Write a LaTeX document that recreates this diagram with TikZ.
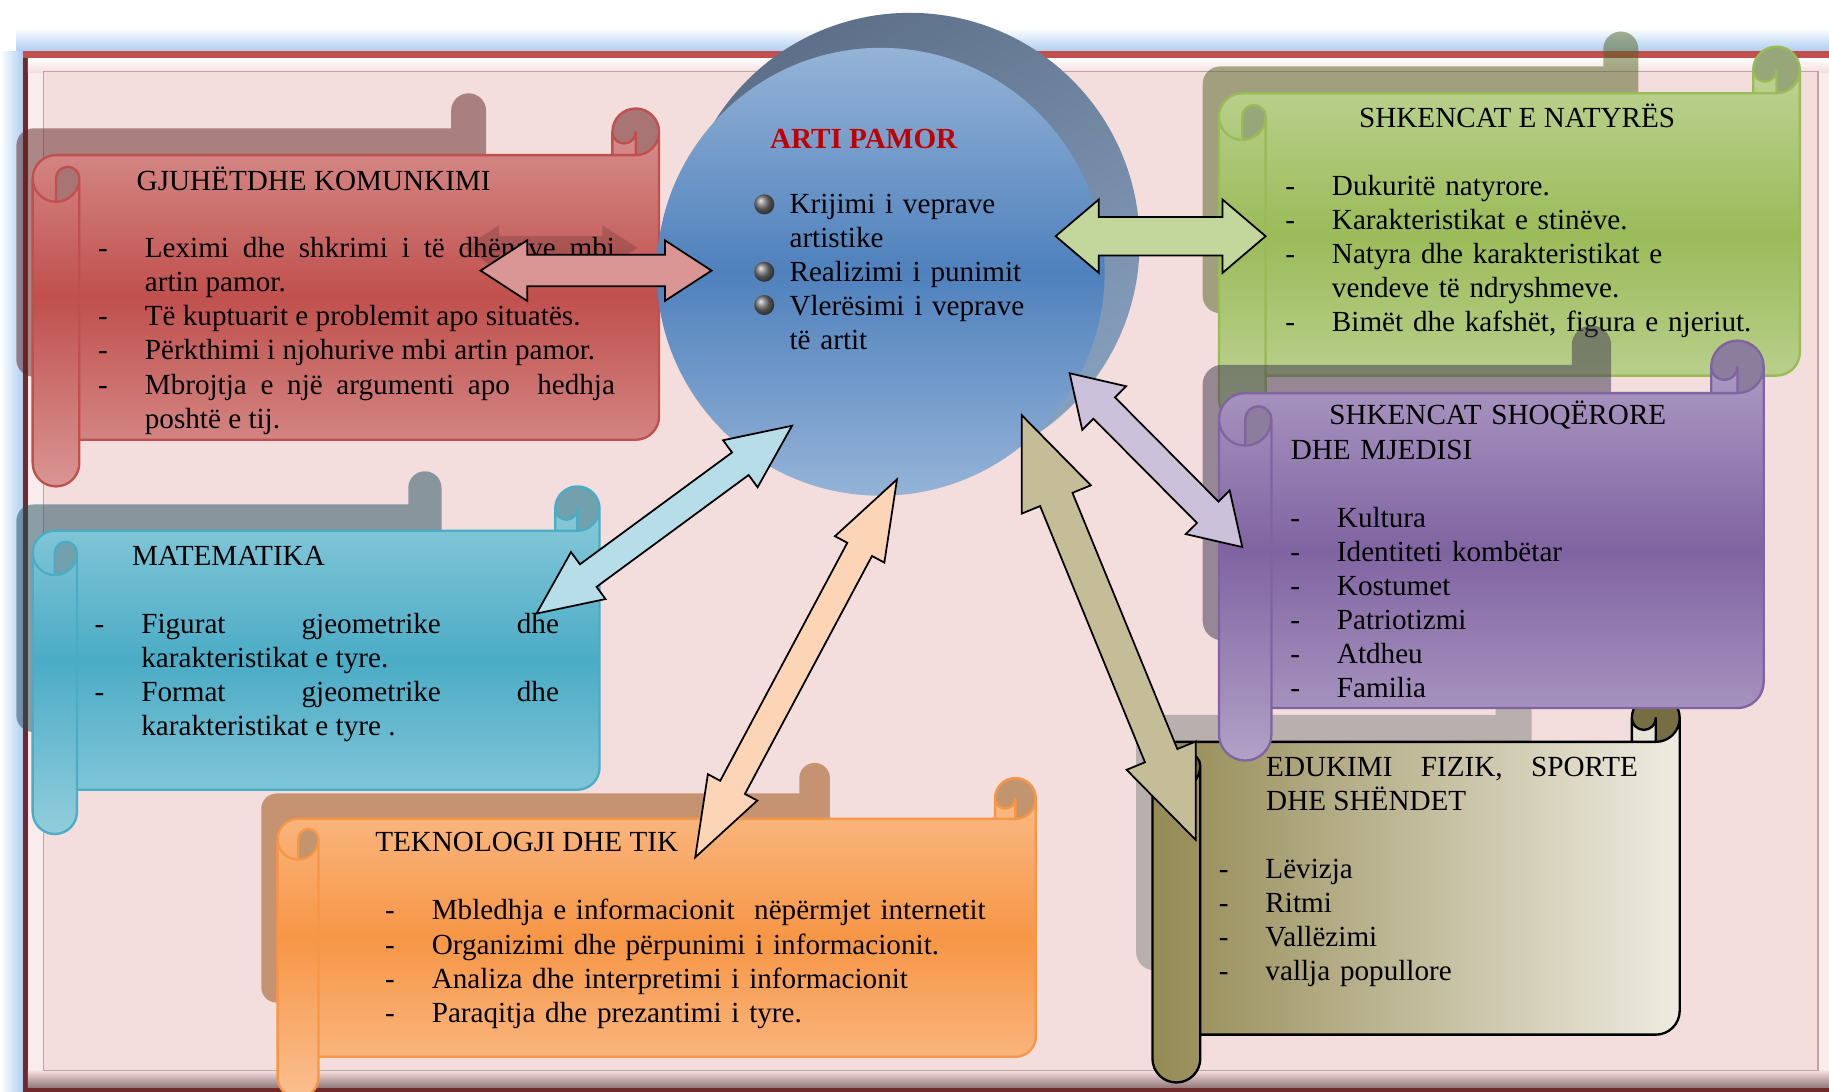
\documentclass[tikz,border=0pt]{standalone}
\usepackage{fontspec}
\setmainfont{Liberation Serif}
\usetikzlibrary{calc}

\definecolor{bgpink}{RGB}{244,221,221}
\definecolor{glowblue}{RGB}{166,200,240}
\definecolor{framered}{RGB}{192,80,77}
\definecolor{framedark}{RGB}{112,42,42}
\definecolor{bevelshade}{RGB}{150,124,124}
\definecolor{innerline}{RGB}{190,165,165}
\definecolor{redlt}{RGB}{217,150,148}
\definecolor{reddk}{RGB}{192,80,77}
\definecolor{bluelt}{RGB}{146,205,220}
\definecolor{bluedk}{RGB}{75,172,198}
\definecolor{greenlt}{RGB}{194,214,155}
\definecolor{greendk}{RGB}{155,187,89}
\definecolor{purplelt}{RGB}{178,161,199}
\definecolor{purpledk}{RGB}{128,100,162}
\definecolor{orangelt}{RGB}{250,191,143}
\definecolor{orangedk}{RGB}{247,150,70}
\definecolor{olivedk}{RGB}{148,138,84}
\definecolor{olivelt}{RGB}{238,236,225}
\definecolor{redshadow}{RGB}{96,35,35}
\definecolor{blueshadow}{RGB}{32,79,95}
\definecolor{greenshadow}{RGB}{82,99,35}
\definecolor{purpleshadow}{RGB}{60,51,79}
\definecolor{orangeshadow}{RGB}{152,75,9}
\definecolor{oliveshadow}{RGB}{128,131,131}
\definecolor{arrred}{RGB}{217,150,148}
\definecolor{arrgreen}{RGB}{195,214,155}
\definecolor{arrcyan}{RGB}{183,222,232}
\definecolor{arrpeach}{RGB}{251,213,181}
\definecolor{arrlav}{RGB}{204,193,218}
\definecolor{arrkhaki}{RGB}{196,189,151}
\definecolor{discback1}{RGB}{94,112,137}
\definecolor{discback2}{RGB}{135,160,190}
\definecolor{disclt}{RGB}{149,179,215}
\definecolor{discdk}{RGB}{79,129,189}
\definecolor{artred}{RGB}{192,0,0}

\hyphenpenalty=10000
\exhyphenpenalty=10000
\tolerance=9999

\newcommand\scrfont{\fontsize{25}{29.2}\selectfont}
\newcommand\dashfirst{\hangindent=40pt\hangafter=1\makebox[40pt][l]{-}}
\newcommand\itm{\par\noindent\dashfirst}

\newcommand\scrollcalc[5]{%
  \pgfmathsetmacro\scrL{#1}%
  \pgfmathsetmacro\scrT{#2}%
  \pgfmathsetmacro\scrR{#3}%
  \pgfmathsetmacro\scrB{#4}%
  \pgfmathsetmacro\scrH{#5/2}%
  \pgfmathsetmacro\scrQ{#5/4}%
  \pgfmathsetmacro\scrXa{#1+#5/2}%
  \pgfmathsetmacro\scrXb{#1+#5}%
  \pgfmathsetmacro\scrXc{#3-#5}%
  \pgfmathsetmacro\scrXd{#3-#5/2}%
  \pgfmathsetmacro\scrYa{#2+#5/2}%
  \pgfmathsetmacro\scrYb{#2+#5}%
  \pgfmathsetmacro\scrYc{#2+1.5*#5}%
  \pgfmathsetmacro\scrYd{#2+2*#5}%
  \pgfmathsetmacro\scrYe{#4-1.5*#5}%
  \pgfmathsetmacro\scrYf{#4-#5}%
  \pgfmathsetmacro\scrYg{#4-#5/2}%
}
\newcommand\scrolloutline{(\scrL,\scrYc) arc[start angle=180, delta angle=90, radius=\scrH]
  -- (\scrXc,\scrYb) -- (\scrXc,\scrYa) arc[start angle=180, delta angle=180, radius=\scrH]
  -- (\scrR,\scrYe) arc[start angle=0, delta angle=90, radius=\scrH]
  -- (\scrXb,\scrYf) -- (\scrXb,\scrYg) arc[start angle=0, delta angle=180, radius=\scrH] -- cycle}
\newcommand\scrollcurls{(\scrXa,\scrYd) arc[start angle=90, delta angle=-90, radius=\scrH]
  arc[start angle=0, delta angle=-180, radius=\scrQ] -- cycle
  (\scrXd,\scrYb) arc[start angle=90, delta angle=-270, radius=\scrH]
  arc[start angle=180, delta angle=-180, radius=\scrQ] -- cycle}
\newcommand\scrollextra{(\scrXc,\scrYb) -- (\scrXd,\scrYb) arc[start angle=90, delta angle=-90, radius=\scrH]
  (\scrXd,\scrYb) -- (\scrXd,\scrYa) arc[start angle=0, delta angle=180, radius=\scrQ]
  (\scrXa,\scrYd) -- (\scrXa,\scrYc) arc[start angle=180, delta angle=180, radius=\scrQ]
  arc[start angle=0, delta angle=180, radius=\scrH]
  (\scrXb,\scrYc) -- (\scrXb,\scrYf)}

% shading, curl colour, outline colour, shadow colour, left, top, right, bottom, roll size
\newcommand\scroll[9]{%
  \scrollcalc{#5}{#6}{#7}{#8}{#9}%
  \begin{scope}[shift={(#5-14,#6-13)}, scale=0.75, shift={(-#5,-#6)}]
    \fill[#4, fill opacity=0.5] \scrolloutline;
  \end{scope}
  \shade[#1] \scrolloutline;
  \fill[#2] \scrollcurls;
  \draw[#3, line width=2pt, line join=round] \scrolloutline \scrollextra;
}

% style, from, to, head length, head half width, shaft half width
\newcommand\bigarrow[6]{%
  \coordinate (#2 h) at ($(#2)!#4pt!(#3)$);
  \coordinate (#3 h) at ($(#3)!#4pt!(#2)$);
  \filldraw[#1] (#2) -- ($(#2 h)!#5pt!90:(#3)$) -- ($(#2 h)!#6pt!90:(#3)$)
    -- ($(#3 h)!#6pt!-90:(#2)$) -- ($(#3 h)!#5pt!-90:(#2)$) -- (#3)
    -- ($(#3 h)!#5pt!90:(#2)$) -- ($(#3 h)!#6pt!90:(#2)$)
    -- ($(#2 h)!#6pt!-90:(#3)$) -- ($(#2 h)!#5pt!-90:(#3)$) -- cycle;
}

\begin{document}
\begin{tikzpicture}[x=1pt, y=-1pt,
    title/.style={anchor=base west, inner sep=0pt, font=\scrfont},
    items/.style={anchor=base west, inner sep=0pt, font=\scrfont, align=justify},
    ragged/.style={anchor=base west, inner sep=0pt, font=\scrfont, align=left},
    blockarrow/.style={draw=black, line width=1.5pt, line join=miter},
    ghost/.style={draw=none, fill=black, fill opacity=0.15},
  ]
    \useasboundingbox (0,0) rectangle (1568,936);

    \shade[top color=white, bottom color=glowblue] (14,24) rectangle (1568,46);
    \shade[left color=white, right color=glowblue] (0,44) rectangle (22,936);
    \fill[framedark] (20,44) rectangle (1572,936);
    \fill[framered] (20,44) rectangle (1572,50);
    \fill[bgpink!55!white] (24,50) rectangle (1572,932);
    \shade[top color=white, bottom color=bgpink] (24,50) rectangle (1572,62);
    \shade[top color=bgpink, bottom color=bevelshade] (24,918) rectangle (1572,932);
    \fill[bgpink, draw=innerline, line width=1pt] (37,61.5) rectangle (1558.5,918);

    \scroll{top color=redlt, bottom color=redlt, middle color=reddk}{redlt!78!black}{reddk}{redshadow}{28}{93}{565}{417}{40}
    \node[title] (gjuha) at (117,163.4) {GJUHËTDHE KOMUNKIMI};
    \node[items, text width=443pt] (gjuhaList) at (84,221) {\dashfirst Leximi dhe shkrimi i të dhënave mbi\linebreak artin pamor.
      \itm Të kuptuarit e problemit apo situatës.
      \itm Përkthimi i njohurive mbi artin pamor.
      \itm Mbrojtja e një argumenti apo~ hedhja\linebreak poshtë e tij.\par};

    \scroll{top color=bluelt, bottom color=bluelt, middle color=bluedk}{bluelt!78!black}{bluedk}{blueshadow}{28}{417}{514}{715}{38}
    \node[title] (mat) at (113,485.2) {MATEMATIKA};
    \node[items, text width=398pt] (matList) at (81,543) {\dashfirst Figurat gjeometrike dhe\linebreak karakteristikat e tyre.
      \itm Format gjeometrike dhe\linebreak karakteristikat e tyre .\par};

    \scroll{top color=orangelt, bottom color=orangelt, middle color=orangedk}{orangelt!78!black}{orangedk}{orangeshadow}{238}{667}{888}{941}{35}
    \node[title] (tik) at (321.5,730) {TEKNOLOGJI DHE TIK};
    \node[ragged, text width=530pt] (tikList) at (330,788.7) {\dashfirst Mbledhja e informacionit~ nëpërmjet internetit
      \itm Organizimi dhe përpunimi i informacionit.
      \itm Analiza dhe interpretimi i informacionit
      \itm Paraqitja dhe prezantimi i tyre.\par};

    \scroll{top color=greenlt, bottom color=greenlt, middle color=greendk}{greenlt!78!black}{greendk}{greenshadow}{1045}{40}{1543}{362}{40}
    \node[title] (nat) at (1165,109.4) {SHKENCAT E NATYRËS};
    \node[ragged, text width=405pt] (natList) at (1101.7,167.2) {\dashfirst Dukuritë natyrore.
      \itm Karakteristikat e stinëve.
      \itm Natyra dhe karakteristikat e\newline vendeve të ndryshmeve.
      \itm Bimët dhe kafshët, figura e njeriut.\par};

    \scroll{left color=olivedk, right color=olivelt}{olivedk!80!black}{black}{oliveshadow}{988}{595}{1440}{928}{41}
    \node[items, text width=318.7pt] (sport) at (1085.3,665.8) {EDUKIMI FIZIK, SPORTE\linebreak DHE SHËNDET};
    \node[ragged, text width=350pt] (sportList) at (1044.7,753) {\dashfirst Lëvizja \itm Ritmi \itm Vallëzimi \itm vallja popullore\par};

    \scroll{top color=purplelt, bottom color=purplelt, middle color=purpledk}{purplelt!78!black}{purpledk}{purpleshadow}{1045}{292}{1512}{652}{45}
    \node[ragged, text width=380pt] (soc) at (1106.4,364.3) {\hspace*{33pt}SHKENCAT SHOQËRORE\newline DHE MJEDISI};
    \node[ragged, text width=350pt] (socList) at (1106,452) {\dashfirst Kultura \itm Identiteti kombëtar \itm Kostumet
      \itm Patriotizmi \itm Atdheu \itm Familia\par};

    \node[circle, minimum size=394pt, inner sep=0pt, top color=discback1, bottom color=discback2, shading angle=30] (artBack) at (780,208) {};
    \node[circle, minimum size=384pt, inner sep=0pt, top color=disclt, bottom color=disclt, middle color=discdk] (art) at (755,233) {};
    \node[title, font=\scrfont\bfseries, text=artred] (artTitle) at (660,127.2) {ARTI PAMOR};
    \node[ragged, text width=260pt] (artList) at (676.7,182.9) {Krijimi i veprave\newline artistike\newline Realizimi i punimit\newline Vlerësimi i veprave\newline të artit};
    \foreach \y in {175.2,233,261.5}
      \shade[ball color=black!55] (655.2,\y) circle (8.6);

    \coordinate (ghostL) at (398,212.5);
    \coordinate (ghostR) at (546.5,212.5);
    \coordinate (gjuhaTip) at (412,232);
    \coordinate (artW) at (610,232);
    \coordinate (artE) at (905,202.5);
    \coordinate (natTip) at (1085,202.5);
    \coordinate (matTip) at (460,526);
    \coordinate (artSW) at (679,365);
    \coordinate (tikTip) at (596,735);
    \coordinate (artS) at (769,411);
    \coordinate (artSE) at (917,320);
    \coordinate (socTip) at (1065,469);
    \coordinate (artSSE) at (876,356);
    \coordinate (sportTip) at (1025,720);

    \bigarrow{ghost}{ghostL}{ghostR}{30}{19.5}{10}
    \bigarrow{blockarrow, fill=arrred}{gjuhaTip}{artW}{40}{26}{13.5}
    \bigarrow{blockarrow, fill=arrgreen}{artE}{natTip}{37}{31.5}{16.5}
    \bigarrow{blockarrow, fill=arrcyan}{matTip}{artSW}{55}{25}{12}
    \bigarrow{blockarrow, fill=arrpeach}{tikTip}{artS}{68}{24}{12}
    \bigarrow{blockarrow, fill=arrlav}{artSE}{socTip}{42}{26.5}{13}
    \bigarrow{blockarrow, fill=arrkhaki}{artSSE}{sportTip}{78}{32}{15}
\end{tikzpicture}
\end{document}
